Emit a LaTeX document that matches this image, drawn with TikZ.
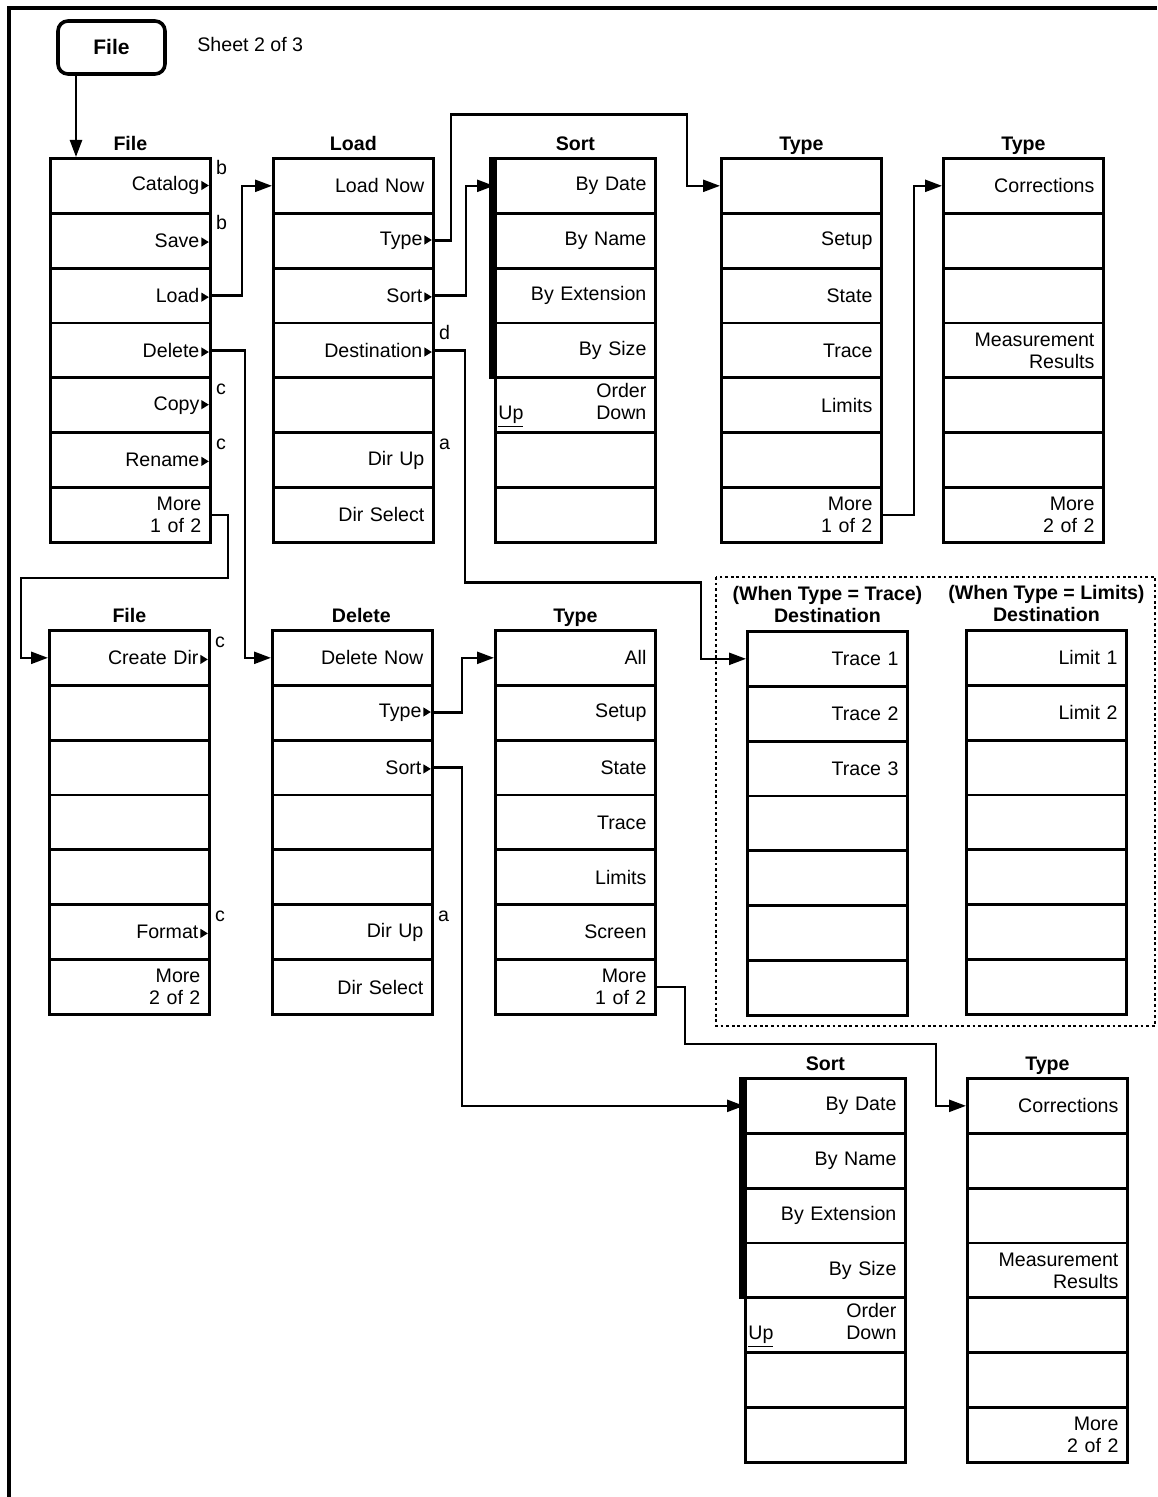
\documentclass[tikz,border=0pt]{standalone}
\usepackage{fontspec}
\setmainfont{Liberation Sans}
\usetikzlibrary{arrows.meta}

% small submenu mark after a key label
\newcommand{\subtri}{\kern1pt\rlap{\raisebox{0.4pt}{\tikz\fill (0pt,0pt)--(0pt,4.6pt)--(3.7pt,2.3pt)--cycle;}}}
% one column of seven softkeys: name, left, top, labels
\newcommand{\softmenu}[4]{%
  \foreach \lbl [count=\idx] in {#4}
    \node[softkey] (#1-\idx) at (#2,{#3+(\idx-1)*54.86}) {\lbl};%
}

\begin{document}
\begin{tikzpicture}[x=0.5pt,y=-0.5pt,line join=miter,font=\fontsize{9.8}{11}\selectfont]
  \tikzset{
    softkey/.style={draw,line width=1.4pt,anchor=north west,minimum width=80pt,minimum height=27.43pt,inner xsep=4.5pt,inner ysep=0pt,text width=71pt,align=right},
    hardkey/.style={draw,line width=1.8pt,rounded corners=5pt,minimum width=53.5pt,minimum height=26.5pt,font=\fontsize{10.5}{12}\selectfont\bfseries},
    title/.style={anchor=base,yshift=3.2pt,inner sep=0pt,font=\fontsize{9.8}{11}\selectfont\bfseries},
    title2/.style={anchor=south,align=center,yshift=3.5pt,inner sep=0pt,font=\fontsize{9.8}{11}\selectfont\bfseries},
    note/.style={anchor=base west,xshift=2pt,yshift=-9pt,inner sep=0pt},
    link/.style={-{Triangle[length=8.5pt,width=6pt]},line width=1.2pt},
    radio/.style={line width=3pt}
  }
  \useasboundingbox (0,0) rectangle (1157,1497);

  % Sheet frame and hardkey.
  \draw[line width=2pt] (9,1497) -- (9,8) -- (1157,8);
  \node[hardkey] (hardfile) at (111.5,47.5) {File};
  \node[anchor=west,inner sep=0pt] (sheet) at (197,45) {Sheet 2 of 3};

  % Top row.
  \softmenu{fileA}{49}{157}{Catalog\subtri,Save\subtri,Load\subtri,Delete\subtri,Copy\subtri,Rename\subtri,{More\\1 of 2}}
  \softmenu{load}{272}{157}{Load Now,Type\subtri,Sort\subtri,Destination\subtri,{},Dir Up,Dir Select}
  \softmenu{sortA}{494}{157}{By Date,By Name,By Extension,By Size,{Order\\\hspace*{-3pt}\underline{Up}\hskip0pt plus1filll Down},{},{}}
  \softmenu{typeA}{720}{157}{{},Setup,State,Trace,Limits,{},{More\\1 of 2}}
  \softmenu{typeB}{942}{157}{Corrections,{},{},{Measurement\\Results},{},{},{More\\2 of 2}}
  \draw[radio] ([xshift=-1pt]sortA-1.north west) -- ([xshift=-1pt]sortA-4.south west);

  \node[title] (fileAt) at (fileA-1.north) {File};
  \node[title] (loadt) at (load-1.north) {Load};
  \node[title] (sortAt) at (sortA-1.north) {Sort};
  \node[title] (typeAt) at (typeA-1.north) {Type};
  \node[title] (typeBt) at (typeB-1.north) {Type};

  \node[note] (nb1) at (fileA-1.north east) {b};
  \node[note] (nb2) at (fileA-2.north east) {b};
  \node[note] (nc1) at (fileA-5.north east) {c};
  \node[note] (nc2) at (fileA-6.north east) {c};
  \node[note] (nd1) at (load-4.north east) {d};
  \node[note] (na1) at (load-6.north east) {a};

  % Bottom row.
  \softmenu{fileB}{48}{629}{Create Dir\subtri,{},{},{},{},Format\subtri,{More\\2 of 2}}
  \softmenu{delete}{271}{629}{Delete Now,Type\subtri,Sort\subtri,{},{},Dir Up,Dir Select}
  \softmenu{typeC}{494}{629}{All,Setup,State,Trace,Limits,Screen,{More\\1 of 2}}
  \softmenu{traceD}{746}{630}{Trace 1,Trace 2,Trace 3,{},{},{},{}}
  \softmenu{limitD}{965}{629}{Limit 1,Limit 2,{},{},{},{},{}}
  \draw[line width=1.4pt,dash pattern=on 1.4pt off 1.4pt] (716,577) rectangle (1155,1026);

  \node[title] (fileBt) at (fileB-1.north) {File};
  \node[title,xshift=4.5pt] (deletet) at (delete-1.north) {Delete};
  \node[title] (typeCt) at (typeC-1.north) {Type};
  \node[title2] (traceDt) at (traceD-1.north) {(When Type = Trace)\\Destination};
  \node[title2] (limitDt) at (limitD-1.north) {(When Type = Limits)\\Destination};

  \node[note] (nc3) at (fileB-1.north east) {c};
  \node[note] (nc4) at (fileB-6.north east) {c};
  \node[note] (na2) at (delete-6.north east) {a};

  % Lowest row.
  \softmenu{sortB}{744}{1077}{By Date,By Name,By Extension,By Size,{Order\\\hspace*{-3pt}\underline{Up}\hskip0pt plus1filll Down},{},{}}
  \softmenu{typeD}{966}{1077}{Corrections,{},{},{Measurement\\Results},{},{},{More\\2 of 2}}
  \draw[radio] ([xshift=-1pt]sortB-1.north west) -- ([xshift=-1pt]sortB-4.south west);

  \node[title] (sortBt) at (sortB-1.north) {Sort};
  \node[title] (typeDt) at (typeD-1.north) {Type};

  % Connectors.
  \draw[link] ([xshift=-17.75pt]hardfile.south) -- ([xshift=-17.75pt]hardfile.south |- fileA-1.north);
  \draw[link] (fileA-3.east) -- ++(30,0) |- (load-1.west);
  \draw[link] (load-2.east) -- ++(16,0) -- ++(0,-126) -| ([xshift=-16.5pt]typeA-1.west) -- (typeA-1.west);
  \draw[link] (load-3.east) -- ++(31,0) |- (sortA-1.west);
  \draw[link] (load-4.east) -- ++(30,0) -- ++(0,232) -| ([xshift=-22.5pt]traceD-1.west) -- (traceD-1.west);
  \draw[link] (typeA-7.east) -- ++(31,0) |- (typeB-1.west);
  \draw[link] (fileA-4.east) -- ++(33,0) |- (delete-1.west);
  \draw[link] (fileA-7.east) -- ++(16,0) -- ++(0,63) -| ([xshift=-13.5pt]fileB-1.west) -- (fileB-1.west);
  \draw[link] (delete-2.east) -- ++(28,0) |- (typeC-1.west);
  \draw[link] (delete-3.east) -- ++(28,0) |- (sortB-1.west);
  \draw[link] (typeC-7.east) -- ++(28,0) -- ++(0,57) -| ([xshift=-15pt]typeD-1.west) -- (typeD-1.west);
\end{tikzpicture}
\end{document}
